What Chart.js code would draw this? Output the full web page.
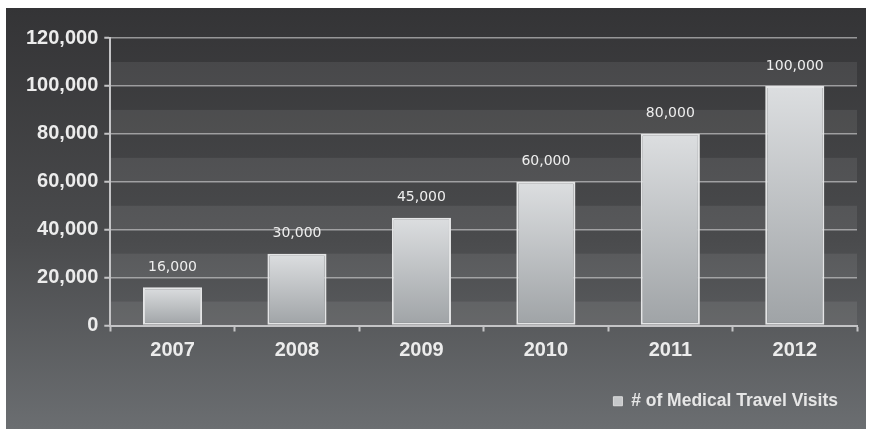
<!DOCTYPE html>
<html lang="en">
<head>
    <meta charset="UTF-8">
    <title>Medical Travel Visits</title>
    <script src="https://cdn.jsdelivr.net/npm/chart.js@4.4.1/dist/chart.umd.min.js"></script>
    <style>
        html, body { margin: 0; padding: 0; background: #ffffff; }
        .chart-box {
            position: absolute;
            left: 6px;
            top: 8px;
            width: 860px;
            height: 421px;
        }
    </style>
</head>
<body>
    <div class="chart-box">
        <canvas id="visitsChart"></canvas>
    </div>

    <script>
        // Data
        const years = ['2007', '2008', '2009', '2010', '2011', '2012'];
        const visits = [16000, 30000, 45000, 60000, 80000, 100000];
        const seriesName = '# of Medical Travel Visits';
        const yMin = 0;
        const yMax = 120000;
        const yStep = 10000;
        const yLabelStep = 20000;

        const fmt = v => v.toLocaleString('en-US');

        // grey backdrop + alternating horizontal bands
        const backdrop = {
            id: 'backdrop',
            beforeDraw(chart) {
                const { ctx, width, height, chartArea: a, scales: { y } } = chart;
                ctx.save();
                const g = ctx.createLinearGradient(0, 0, 0, height);
                g.addColorStop(0, '#343436');
                g.addColorStop(0.55, '#4a4b4d');
                g.addColorStop(1, '#6b6e71');
                ctx.fillStyle = g;
                ctx.fillRect(0, 0, width, height);

                // lighter band between every odd and even gridline
                ctx.fillStyle = 'rgba(255,255,255,0.08)';
                for (let v = yMin; v < yMax; v += yStep * 2) {
                    const top = y.getPixelForValue(v + yStep);
                    const bottom = y.getPixelForValue(v);
                    ctx.fillRect(a.left, top, a.right - a.left, bottom - top);
                }
                ctx.restore();
            }
        };

        // value labels above each bar
        const valueLabels = {
            id: 'valueLabels',
            afterDatasetsDraw(chart) {
                const { ctx } = chart;
                const meta = chart.getDatasetMeta(0);
                ctx.save();
                ctx.font = '14px "DejaVu Sans"';
                ctx.fillStyle = '#eeeeee';
                ctx.textAlign = 'center';
                ctx.textBaseline = 'middle';
                meta.data.forEach((bar, i) => {
                    ctx.fillText(fmt(visits[i]), bar.x, bar.y - 20);
                });
                ctx.restore();
            }
        };

        function barFill(context) {
            const chart = context.chart;
            if (!chart.chartArea) return '#c8cacc';
            const y = chart.scales.y;
            const top = y.getPixelForValue(context.raw);
            const bottom = y.getPixelForValue(0);
            const g = chart.ctx.createLinearGradient(0, top, 0, bottom);
            g.addColorStop(0, '#dcdee0');
            g.addColorStop(1, '#9fa3a6');
            return g;
        }

        const lineColor = 'rgba(210,210,212,0.62)';
        const axisColor = '#c4c4c6';

        new Chart(document.getElementById('visitsChart'), {
            type: 'bar',
            data: {
                labels: years,
                datasets: [{
                    label: seriesName,
                    data: visits,
                    backgroundColor: barFill,
                    borderColor: '#e4e5e6',
                    borderWidth: 2,
                    borderSkipped: false,
                    barPercentage: 0.475,
                    categoryPercentage: 1
                }]
            },
            options: {
                responsive: true,
                maintainAspectRatio: false,
                animation: false,
                layout: { padding: { left: 14, right: 9, top: 30, bottom: 9 } },
                scales: {
                    x: {
                        grid: {
                            display: true,
                            drawOnChartArea: false,
                            offset: true,
                            tickLength: 6,
                            tickWidth: 2,
                            tickColor: axisColor
                        },
                        border: { display: true, color: axisColor, width: 2 },
                        ticks: {
                            color: '#ececec',
                            padding: 7,
                            font: { family: '"Liberation Sans", Arial, sans-serif', size: 20, weight: 'bold' }
                        },
                        afterFit(scale) { scale.height = 48; }
                    },
                    y: {
                        min: yMin,
                        max: yMax,
                        grid: {
                            color: lineColor,
                            lineWidth: 1.5,
                            tickLength: 6,
                            tickWidth: 2,
                            tickColor: c => (c.tick && c.tick.value % yLabelStep === 0) ? axisColor : 'rgba(0,0,0,0)'
                        },
                        border: { display: true, color: axisColor, width: 2 },
                        ticks: {
                            stepSize: yStep,
                            color: '#ececec',
                            padding: 6,
                            font: { family: '"Liberation Sans", Arial, sans-serif', size: 20, weight: 'bold' },
                            callback: v => (v % yLabelStep === 0 ? fmt(v) : '')
                        }
                    }
                },
                plugins: {
                    tooltip: { enabled: false },
                    legend: {
                        display: true,
                        position: 'bottom',
                        align: 'end',
                        labels: {
                            boxWidth: 9,
                            boxHeight: 9,
                            padding: 19,
                            color: '#e6e6e6',
                            font: { family: '"Liberation Sans", Arial, sans-serif', size: 17.5, weight: 'bold' },
                            generateLabels: () => [{
                                text: seriesName,
                                fillStyle: '#c6c8ca',
                                strokeStyle: '#dcdcdc',
                                lineWidth: 1,
                                hidden: false,
                                datasetIndex: 0,
                                fontColor: '#e6e6e6'
                            }]
                        }
                    }
                }
            },
            plugins: [backdrop, valueLabels]
        });
    </script>
</body>
</html>
